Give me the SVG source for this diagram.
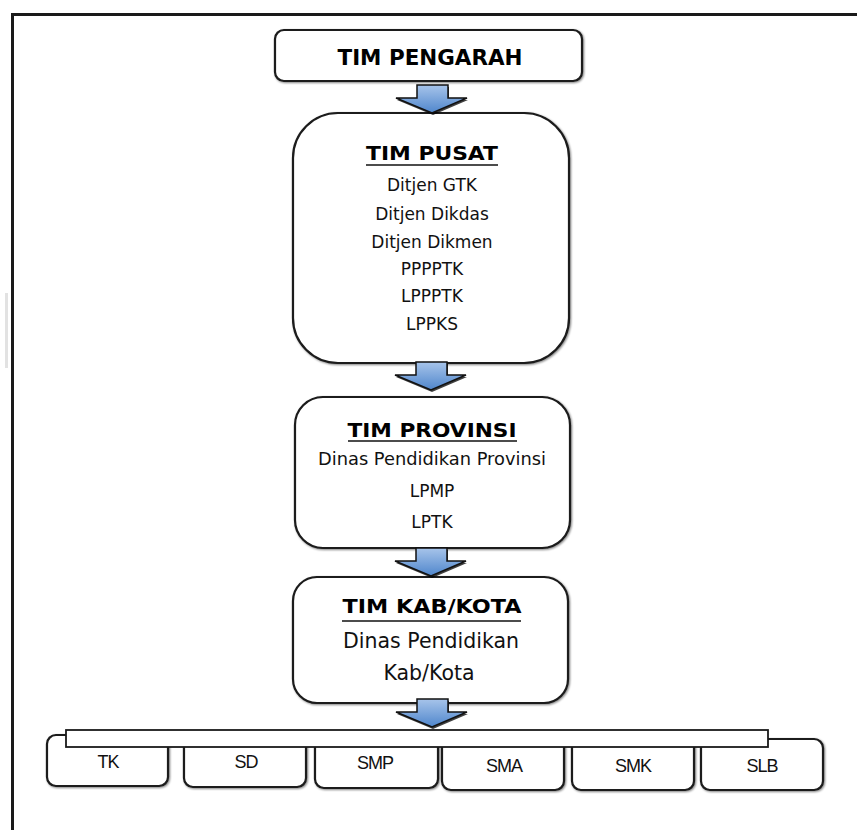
<svg xmlns="http://www.w3.org/2000/svg" width="857" height="830" viewBox="0 0 857 830">
<defs>
<linearGradient id="blue" x1="0" y1="0" x2="0" y2="1">
<stop offset="0" stop-color="#a7c4ea"/>
<stop offset="1" stop-color="#4f86cc"/>
</linearGradient>
<filter id="sh" x="-10%" y="-10%" width="130%" height="130%">
<feGaussianBlur in="SourceAlpha" stdDeviation="0.8"/>
<feOffset dx="1" dy="1" result="b"/>
<feComponentTransfer><feFuncA type="linear" slope="0.5"/></feComponentTransfer>
<feMerge><feMergeNode/><feMergeNode in="SourceGraphic"/></feMerge>
</filter>
<path id="arr" d="M-15,0 H16 V13 H35 L0,28 L-36,13 H-15 Z"/>
</defs>
<style>
.box{fill:#fff;stroke:#1a1a1a;stroke-width:2.2;filter:url(#sh)}
.hd{font-family:"DejaVu Sans",Verdana,sans-serif;font-weight:bold;text-anchor:middle;fill:#000}
.tx{font-family:"DejaVu Sans",Verdana,sans-serif;text-anchor:middle;fill:#111}
.lb{font-family:"Liberation Sans",Arial,sans-serif;text-anchor:middle;fill:#111;font-size:18px;letter-spacing:-1px}
.ul{stroke:#111;stroke-width:1.6}
.ar{fill:url(#blue);stroke:#111;stroke-width:1.5;stroke-linejoin:miter}
.ars{fill:#000;opacity:0.75}
</style>
<rect width="857" height="830" fill="#fff"/>
<rect x="5" y="293" width="3" height="75" fill="#e2e2e2"/>
<path d="M12.5,830 V14.5 H857" fill="none" stroke="#1a1a1a" stroke-width="3"/>

<g id="pengarah">
<rect class="box" x="275" y="30" width="307" height="51" rx="9"/>
<text class="hd" x="430" y="65" font-size="21" textLength="185" lengthAdjust="spacingAndGlyphs">TIM PENGARAH</text>
</g>

<g id="pusat">
<rect class="box" x="293" y="113" width="276" height="250" rx="45"/>
<text class="hd" x="432" y="160" font-size="20" textLength="132" lengthAdjust="spacingAndGlyphs">TIM PUSAT</text>
<line class="ul" x1="366" y1="165" x2="498" y2="165"/>
<text class="tx" x="432" y="191" font-size="17">Ditjen GTK</text>
<text class="tx" x="432" y="220" font-size="17">Ditjen Dikdas</text>
<text class="tx" x="432" y="248" font-size="17">Ditjen Dikmen</text>
<text class="tx" x="432" y="275" font-size="17">PPPPTK</text>
<text class="tx" x="432" y="302" font-size="17">LPPPTK</text>
<text class="tx" x="432" y="330" font-size="17">LPPKS</text>
</g>

<g id="provinsi">
<rect class="box" x="295" y="397" width="275" height="151" rx="28"/>
<text class="hd" x="432" y="437" font-size="20" textLength="169" lengthAdjust="spacingAndGlyphs">TIM PROVINSI</text>
<line class="ul" x1="348" y1="441" x2="517" y2="441"/>
<text class="tx" x="432" y="465" font-size="17.5" textLength="228" lengthAdjust="spacingAndGlyphs">Dinas Pendidikan Provinsi</text>
<text class="tx" x="432" y="497" font-size="17">LPMP</text>
<text class="tx" x="432" y="528" font-size="17">LPTK</text>
</g>

<g id="kabkota">
<rect class="box" x="293" y="577" width="275" height="126" rx="24"/>
<text class="hd" x="432" y="613" font-size="20" textLength="179" lengthAdjust="spacingAndGlyphs">TIM KAB/KOTA</text>
<line class="ul" x1="342" y1="621" x2="521" y2="621"/>
<text class="tx" x="431" y="648" font-size="20.5">Dinas Pendidikan</text>
<text class="tx" x="429" y="680" font-size="20.5">Kab/Kota</text>
</g>

<g id="sekolah">
<g id="tk"><rect class="box" x="47" y="735" width="121" height="51" rx="9"/><text class="lb" x="108" y="768">TK</text></g>
<g id="sd"><rect class="box" x="184" y="735" width="122" height="52" rx="9"/><text class="lb" x="246" y="768">SD</text></g>
<g id="smp"><rect class="box" x="315" y="736" width="123" height="52" rx="9"/><text class="lb" x="375" y="769">SMP</text></g>
<g id="sma"><rect class="box" x="442" y="738" width="122" height="52" rx="9"/><text class="lb" x="504" y="772">SMA</text></g>
<g id="smk"><rect class="box" x="572" y="738" width="122" height="52" rx="9"/><text class="lb" x="633" y="772">SMK</text></g>
<g id="slb"><rect class="box" x="701" y="739" width="122" height="51" rx="9"/><text class="lb" x="762" y="772">SLB</text></g>
<rect x="66" y="730" width="702" height="17" fill="#fff" stroke="#1a1a1a" stroke-width="1.8"/>
</g>

<g id="connectors">
<use href="#arr" x="433" y="87" class="ars"/>
<use href="#arr" x="432" y="85" class="ar"/>
<use href="#arr" x="432" y="364" class="ars"/>
<use href="#arr" x="431" y="362" class="ar"/>
<use href="#arr" x="432" y="550" class="ars"/>
<use href="#arr" x="431" y="548" class="ar"/>
<use href="#arr" x="433" y="701" class="ars"/>
<use href="#arr" x="432" y="699" class="ar"/>
</g>
</svg>
